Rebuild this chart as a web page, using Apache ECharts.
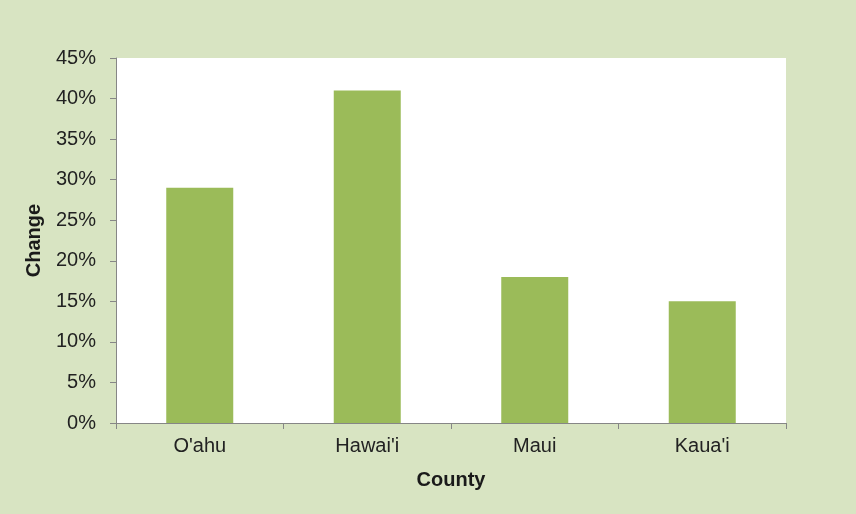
<!DOCTYPE html>
<html><head><meta charset="utf-8">
<script src="https://cdn.jsdelivr.net/npm/echarts@6/dist/echarts.min.js"></script>
<style>html,body{margin:0;padding:0;background:#d8e4c2;}#c{width:856px;height:514px;}</style>
</head><body><div id="c"></div>
<script>
const categories = ["O'ahu", "Hawai'i", "Maui", "Kaua'i"];
const changeValues = [29, 41, 18, 15];
const yTicks = [0, 5, 10, 15, 20, 25, 30, 35, 40, 45];

const chart = echarts.init(document.getElementById('c'));
chart.setOption({
  backgroundColor: '#d8e4c2',
  animation: false,
  grid: { left: 116, right: 70, top: 58, bottom: 91, show: true, backgroundColor: '#ffffff', borderWidth: 0 },
  xAxis: {
    type: 'category', data: categories,
    name: 'County', nameLocation: 'middle', nameGap: 47,
    nameTextStyle: { fontFamily: 'Liberation Sans', fontWeight: 'bold', fontSize: 20, color: '#1a1a1a' },
    axisLine: { lineStyle: { color: '#868686', width: 1 } },
    axisTick: { show: true, alignWithLabel: false, length: 6, lineStyle: { color: '#868686' } },
    axisLabel: { fontFamily: 'Liberation Sans', fontSize: 20, color: '#222222', margin: 13 },
    splitLine: { show: false }
  },
  yAxis: {
    type: 'value', min: yTicks[0], max: yTicks[yTicks.length - 1], interval: 5,
    name: 'Change', nameLocation: 'middle', nameGap: 72, nameRotate: 90,
    nameTextStyle: { fontFamily: 'Liberation Sans', fontWeight: 'bold', fontSize: 20, color: '#1a1a1a' },
    axisLine: { show: true, lineStyle: { color: '#868686', width: 1 } },
    axisTick: { show: true, length: 6, lineStyle: { color: '#868686' } },
    axisLabel: { fontFamily: 'Liberation Sans', fontSize: 20, color: '#222222', margin: 20, formatter: v => v + '%' },
    splitLine: { show: false }
  },
  series: [{
    type: 'bar', data: changeValues, barWidth: '40%',
    itemStyle: { color: '#9bbb59' }
  }]
});
</script></body></html>
